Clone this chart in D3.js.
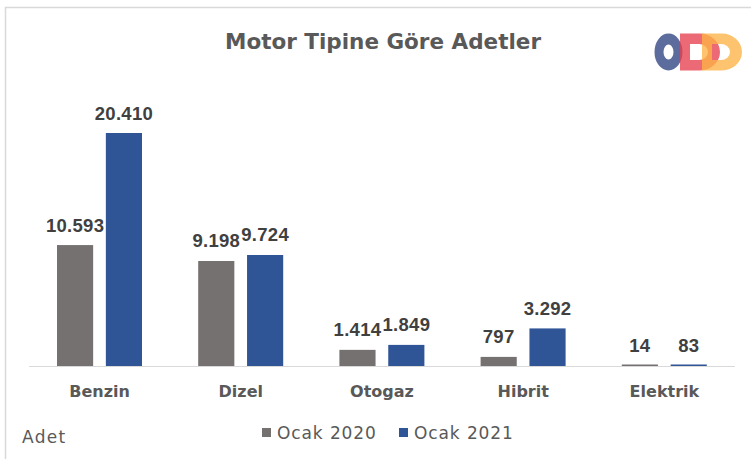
<!DOCTYPE html>
<html><head><meta charset="utf-8">
<script src="https://cdn.jsdelivr.net/npm/d3@7"></script>
<style>body{margin:0;background:#fff}svg{display:block}</style>
</head><body>
<svg id="c" width="751" height="459"></svg>
<script>
const categories = ["Benzin","Dizel","Otogaz","Hibrit","Elektrik"];
const series2020 = [10593, 9198, 1414, 797, 14];
const series2021 = [20410, 9724, 1849, 3292, 83];
const seriesNames = ["Ocak 2020","Ocak 2021"];
const seriesColors = ["#767171","#2F5597"];

const svg = d3.select("#c");
const font = "'DejaVu Sans', sans-serif";
const numFont = "'Liberation Sans', Arial, sans-serif";
// border
svg.append("path").attr("d","M5.5,459 V7.5 H751").attr("fill","none").attr("stroke","#d9d9d9").attr("stroke-width",1.5);

svg.append("text").attr("x",383).attr("y",49).attr("text-anchor","middle")
  .attr("font-family",font).attr("font-weight","bold").attr("font-size",21.5).attr("fill","#595959")
  .text("Motor Tipine Göre Adetler");

const x0 = d3.scaleBand().domain(categories).range([29,735]);
const x1 = d3.scaleBand().domain([0,1]).range([28,113]).paddingInner(0.26);
const y = d3.scaleLinear().domain([0,20410]).range([366,133]);

const data = categories.map((c,i)=>({c, v:[series2020[i],series2021[i]]}));
const g = svg.append("g");
g.append("line").attr("x1",29).attr("x2",735).attr("y1",366.5).attr("y2",366.5).attr("stroke","#d9d9d9").attr("stroke-width",1);
const fmt = v => d3.format(",")(v).replace(/,/g,".");
data.forEach(d=>{
  d.v.forEach((v,j)=>{
    const bx = x0(d.c)+x1(j);
    const h = Math.max(1.5, 366 - y(v));
    g.append("rect").attr("x",bx).attr("y",366-h).attr("width",x1.bandwidth()).attr("height",h).attr("fill",seriesColors[j]);
    g.append("text").attr("x",bx+x1.bandwidth()/2).attr("y",y(v)-13.5).attr("text-anchor","middle")
      .attr("font-family",numFont).attr("font-weight","bold").attr("font-size",18.5).attr("letter-spacing",0.3).attr("fill","#404040").text(fmt(v));
  });
  g.append("text").attr("x",x0(d.c)+x0.bandwidth()/2).attr("y",397).attr("text-anchor","middle")
    .attr("font-family",font).attr("font-weight","bold").attr("font-size",16).attr("fill","#595959").text(d.c);
});

svg.append("text").attr("x",22).attr("y",443).attr("font-family",font).attr("font-size",17).attr("letter-spacing",1.3).attr("fill","#595959").text("Adet");
const legX = [262,399];
seriesNames.forEach((n,j)=>{
  svg.append("rect").attr("x",legX[j]).attr("y",428).attr("width",9).attr("height",9).attr("fill",seriesColors[j]);
  svg.append("text").attr("x",legX[j]+15).attr("y",439).attr("font-family",font).attr("font-size",17).attr("letter-spacing",0.9).attr("fill","#595959").text(n);
});

// logo
const logo = svg.append("g");
// O ring (outer 14x18.5, inner hole)
logo.append("path").attr("fill-rule","evenodd").attr("fill","#3f548c").attr("opacity",0.85)
  .attr("d","M654.5,52 A14,18.5 0 1 0 682.5,52 A14,18.5 0 1 0 654.5,52 Z M663.5,52 A5,7.5 0 1 1 673.5,52 A5,7.5 0 1 1 663.5,52 Z");
function dShape(x, col){
  logo.append("path").attr("fill-rule","evenodd").attr("fill",col).attr("opacity",0.78)
   .attr("d",`M${x},33.5 H${x+20} A20,18.5 0 0 1 ${x+20},70.5 H${x} Z M${x+10},44 H${x+19} A9,8 0 0 1 ${x+19},60 H${x+10} Z`);
}
dShape(680,"#e6404f");
dShape(702,"#fdb245");
</script>
</body></html>
